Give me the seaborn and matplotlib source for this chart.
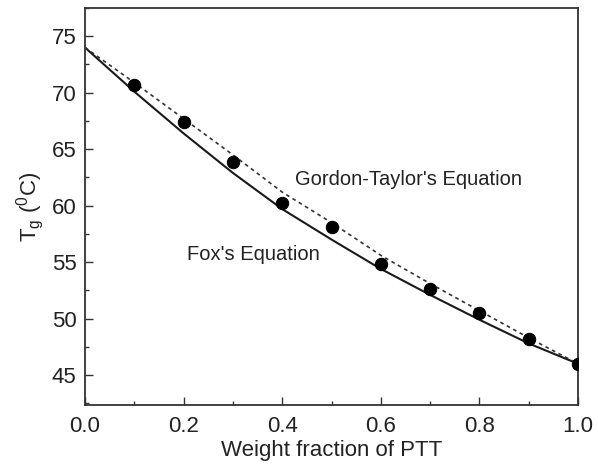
import matplotlib
matplotlib.use("Agg")
import matplotlib.pyplot as plt
from matplotlib.ticker import MultipleLocator
import seaborn as sns
import pandas as pd

# measured data (weight fraction of PTT vs Tg)
w_points = [0.1, 0.2, 0.3, 0.4, 0.5, 0.6, 0.7, 0.8, 0.9, 1.0]
tg_points = [70.7, 67.4, 63.9, 60.2, 58.1, 54.8, 52.6, 50.5, 48.2, 45.95]

# curves
w_curve = [0.0, 0.1, 0.2, 0.3, 0.4, 0.5, 0.6, 0.7, 0.8, 0.9, 1.0]
tg_fox = [74.0, 70.1, 66.4, 62.9, 59.7, 57.0, 54.4, 52.1, 49.9, 47.8, 46.0]
tg_gt = [74.0, 70.9, 67.7, 64.5, 61.2, 58.5, 55.6, 53.1, 50.7, 48.3, 46.0]

sns.set_style("ticks")
plt.rcParams["font.family"] = ["Liberation Sans", "DejaVu Sans"]
plt.rcParams["mathtext.fontset"] = "custom"
plt.rcParams["mathtext.rm"] = "Liberation Sans"
plt.rcParams["mathtext.it"] = "Liberation Sans:italic"

fig = plt.figure(figsize=(5.98, 4.66), dpi=100)
ax = fig.add_axes([0.1421, 0.1309, 0.8245, 0.8519])

df_fox = pd.DataFrame({"w": w_curve, "tg": tg_fox})
df_gt = pd.DataFrame({"w": w_curve, "tg": tg_gt})
df_pts = pd.DataFrame({"w": w_points, "tg": tg_points})

sns.lineplot(data=df_fox, x="w", y="tg", ax=ax, color="#1a1a1a", lw=1.5)
sns.lineplot(data=df_gt, x="w", y="tg", ax=ax, color="#333333", lw=1.2,
             linestyle=(0, (2.2, 2.2)))
sns.scatterplot(data=df_pts, x="w", y="tg", ax=ax, color="black", s=80,
                marker="o", edgecolor="black", zorder=5)

ax.set_xlim(0.0, 1.0)
ax.set_ylim(42.35, 77.5)
ax.xaxis.set_major_locator(MultipleLocator(0.2))
ax.xaxis.set_minor_locator(MultipleLocator(0.1))
ax.yaxis.set_major_locator(MultipleLocator(5))
ax.yaxis.set_minor_locator(MultipleLocator(2.5))
ax.set_xticklabels([f"{v:.1f}" for v in ax.get_xticks()])
ax.tick_params(which="major", direction="in", length=6, width=1, labelsize=16,
               top=False, right=False, colors="#333333", labelcolor="#222222")
ax.tick_params(which="minor", direction="in", length=3, width=1,
               top=False, right=False, colors="#333333")
ax.tick_params(axis="x", pad=8)
ax.tick_params(axis="y", pad=6)

for s in ax.spines.values():
    s.set_visible(True)
    s.set_linewidth(1.3)
    s.set_color("#333333")

ax.set_xlabel("Weight fraction of PTT", fontsize=16, color="#222222", labelpad=2)
ax.set_ylabel(r"T$_\mathrm{g}$ ($^\mathrm{0}$C)", fontsize=16, color="#222222",
              labelpad=4)

ax.text(0.426, 62.35, "Gordon-Taylor's Equation", fontsize=14.5, color="#222222",
        va="center", ha="left")
ax.text(0.207, 55.7, "Fox's Equation", fontsize=14.5, color="#222222",
        va="center", ha="left")

fig.savefig("out.png", dpi=100)
